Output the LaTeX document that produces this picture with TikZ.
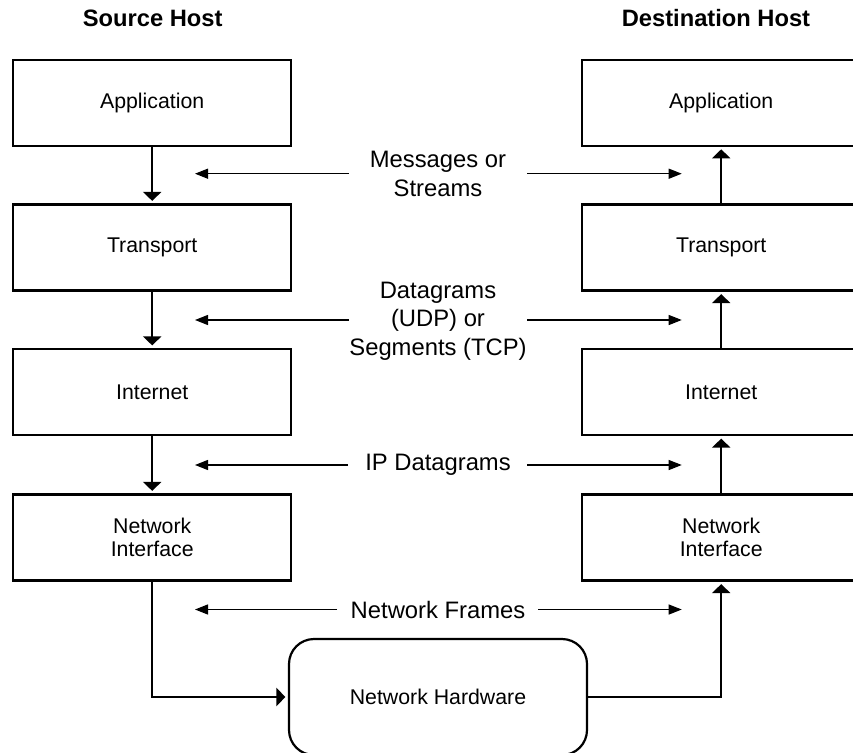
\documentclass[tikz,border=0pt]{standalone}
\usepackage{fontspec}
\setmainfont{Liberation Sans}
\usetikzlibrary{arrows.meta}
\begin{document}
\begin{tikzpicture}[x=1pt,y=-1pt,
  layer/.style={draw, line width=2.2pt, minimum width=278pt, minimum height=86pt,
    inner sep=0pt, align=center, font=\fontsize{21.3}{23.5}\selectfont},
  hw/.style={layer, rounded corners=25pt, minimum width=298pt, minimum height=116pt},
  title/.style={font=\fontsize{23.7}{28}\selectfont\bfseries, anchor=base, inner sep=0pt},
  pdu/.style={align=center, font=\fontsize{23.8}{28.5}\selectfont, inner sep=0pt},
  flow/.style={line width=2.2pt, -{Triangle[length=9pt,width=18pt]}, shorten >=2.5pt},
  pduarrow/.style={line width=1.2pt, -{Triangle[length=13pt,width=10pt]}}]
\useasboundingbox (0,0) rectangle (853,752);
\clip (0,0) rectangle (853,752);
% titles
\node[title] (src) at (152.7,26.7) {Source Host};
\node[title] (dst) at (716,26.7) {Destination Host};
% source stack
\node[layer] (appL) at (152.2,102.7) {Application};
\node[layer] (trL)  at (152.2,247.5) {Transport};
\node[layer] (inL)  at (152.2,392)   {Internet};
\node[layer] (niL)  at (152.2,537.5) {Network\\Interface};
% destination stack
\node[layer] (appR) at (721.2,102.7) {Application};
\node[layer] (trR)  at (721.2,247.5) {Transport};
\node[layer] (inR)  at (721.2,392)   {Internet};
\node[layer] (niR)  at (721.2,537.5) {Network\\Interface};
% hardware
\node[hw] (nh) at (438,697) {Network Hardware};
% flows
\draw[flow] (appL.south) -- (trL.north);
\draw[flow] (trL.south) -- (inL.north);
\draw[flow] (inL.south) -- (niL.north);
\draw[flow] (niL.south) |- (nh.west);
\draw[flow] (nh.east) -| (niR.south);
\draw[flow] (niR.north) -- (inR.south);
\draw[flow] (inR.north) -- (trR.south);
\draw[flow] (trR.north) -- (appR.south);
% pdu labels
\node[pdu] (msg) at (438,174) {Messages or\\Streams};
\node[pdu] (dg)  at (438,321) {Datagrams\\(UDP) or\\Segments (TCP)};
\node[pdu] (ip)  at (438,465) {IP Datagrams};
\node[pdu] (nf)  at (438,609.5) {Network Frames};
% pdu arrow ends
\coordinate (msgA) at (349,173.7);   \coordinate (msgAt) at (195,173.7);
\coordinate (msgB) at (527,173.7);   \coordinate (msgBt) at (681.7,173.7);
\coordinate (dgA)  at (349,320);     \coordinate (dgAt)  at (195,320);
\coordinate (dgB)  at (527,320);     \coordinate (dgBt)  at (681.7,320);
\coordinate (ipA)  at (348,465);     \coordinate (ipAt)  at (195,465);
\coordinate (ipB)  at (527,465);     \coordinate (ipBt)  at (681.7,465);
\coordinate (nfA)  at (337,609.5);   \coordinate (nfAt)  at (195,609.5);
\coordinate (nfB)  at (538,609.5);   \coordinate (nfBt)  at (681.7,609.5);
\draw[pduarrow] (msgA) -- (msgAt);
\draw[pduarrow] (msgB) -- (msgBt);
\draw[pduarrow] (dgA) -- (dgAt);
\draw[pduarrow] (dgB) -- (dgBt);
\draw[pduarrow] (ipA) -- (ipAt);
\draw[pduarrow] (ipB) -- (ipBt);
\draw[pduarrow] (nfA) -- (nfAt);
\draw[pduarrow] (nfB) -- (nfBt);
\end{tikzpicture}
\end{document}
